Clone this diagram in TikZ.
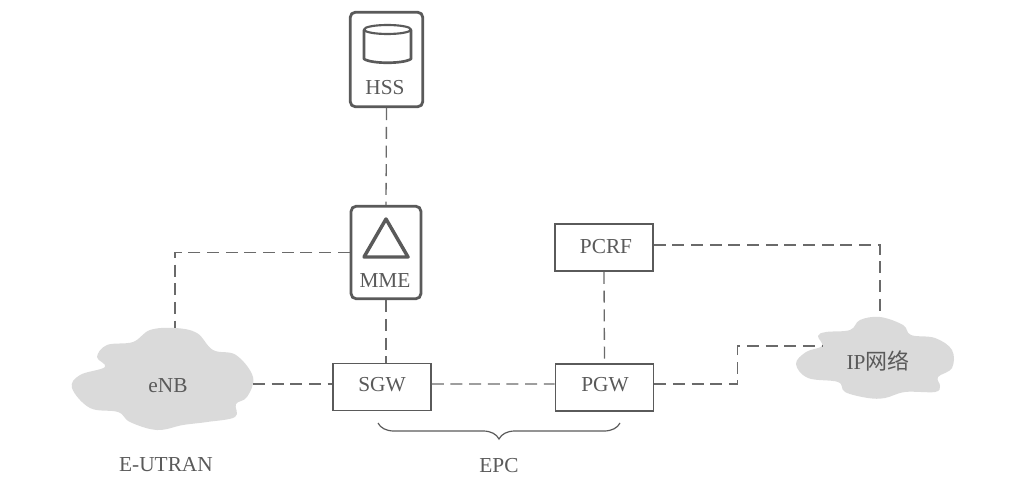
\documentclass[tikz,border=0pt]{standalone}
\usepackage{fontspec}
\setmainfont{Liberation Serif}
\newfontfamily\cjkfont{Noto Sans CJK SC}
\usetikzlibrary{decorations.pathreplacing}
\definecolor{ink}{HTML}{5A5A5A}
\definecolor{linkc}{HTML}{6A6A6A}
\definecolor{cloudc}{HTML}{DADADA}
\tikzset{
  x=0.75pt,y=-0.75pt,
  lbl/.style={font=\fontsize{16}{18}\selectfont,text=ink,inner sep=0pt},
  plainbox/.style={draw=ink,line width=1.2pt,fill=white,minimum width=73.5pt,minimum height=35.5pt,inner sep=0pt},
  heavybox/.style={draw=ink,line width=2.1pt,rounded corners=4pt,fill=white,inner sep=0pt},
  link/.style={draw=linkc,line width=1pt,dash pattern=on 9pt off 5pt},
  cloudshape/.style={fill=cloudc},
  icon/.style={draw=ink,line width=2pt,line join=round},
  bracestyle/.style={draw=ink,line width=0.9pt,decorate,decoration={brace,amplitude=12pt,mirror}}
}
\begin{document}
\begin{tikzpicture}
\useasboundingbox (0,0) rectangle (1018,492);
% clouds
\fill[cloudshape] plot[smooth cycle,tension=0.62] coordinates {
 (175,328) (197,333) (213,350) (236,355) (253,377) (247,397) (236,404) (235,417)
 (207,422) (183,425) (157,430) (130,422) (118,412) (90,408) (72,388) (80,375)
 (105,367) (97,357) (107,345) (133,342) (150,330)};
\fill[cloudshape] plot[smooth cycle,tension=0.62] coordinates {
 (880,317) (903,325) (911,335) (935,338) (952,350) (952,368) (938,377) (940,386)
 (935,392) (905,392) (885,398) (868,398) (845,392) (838,382) (808,378) (796,364)
 (806,352) (822,346) (818,336) (826,332) (850,330) (860,320)};
% connector end points on the clouds
\coordinate (enbT) at (175,328);
\coordinate (enbR) at (253,384);
\coordinate (ipT) at (880,317);
\coordinate (ipL) at (823,346);
% boxes
\node[heavybox,minimum width=54.5pt,minimum height=71pt] (hss) at (386.5,59.5) {};
\node[heavybox,minimum width=52.5pt,minimum height=69.5pt] (mme) at (386,252.5) {};
\node[plainbox] (pcrf) at (604,247.5) {};
\node[plainbox] (sgw) at (382,387) {};
\node[plainbox] (pgw) at (604.5,387.5) {};
% labels
\node[lbl] (hsst) at (385,88) {HSS};
\node[lbl] (mmet) at (385,281) {MME};
\node[lbl] (pcrft) at (606,247) {PCRF};
\node[lbl] (sgwt) at (382,385) {SGW};
\node[lbl] (pgwt) at (605,385) {PGW};
\node[lbl] (enbt) at (168,386) {eNB};
\node[lbl] (ipt) at (878,361) {IP{\cjkfont\fontsize{16.5}{18}\selectfont 网络}};
\node[lbl] (eutran) at (166,465) {E-UTRAN};
\node[lbl] (epc) at (499,466) {EPC};
% icons
\draw[icon] (364,30) -- (364,59) .. controls (372,64) and (403,64) .. (411,59) -- (411,30);
\draw[icon,line width=1.6pt] (387.5,29.5) ellipse [x radius=23.5,y radius=4.5];
\draw[icon,line width=2.6pt] (386,219) -- (408,257) -- (364,257) -- cycle;
% connectors
\draw[link] (hss.south) -- (mme.north);
\draw[link] (mme.south) -- (mme.south |- sgw.north);
\draw[link] (mme.west) -| (enbT);
\draw[link] (enbR) -- (enbR -| sgw.west);
\draw[link] ([yshift=2.25pt]sgw.east) -- ([yshift=2.6pt]pgw.west);
\draw[link] (pcrf.south) -- (pgw.north);
\draw[link] ([yshift=1.9pt]pcrf.east) -| (ipT);
\draw[link] ([yshift=2.6pt]pgw.east) -- ++(83,0) |- (ipL);
% brace
\coordinate (braceL) at (378,423);
\coordinate (braceR) at (620,423);
\draw[bracestyle] (braceL) -- (braceR);
\end{tikzpicture}
\end{document}
